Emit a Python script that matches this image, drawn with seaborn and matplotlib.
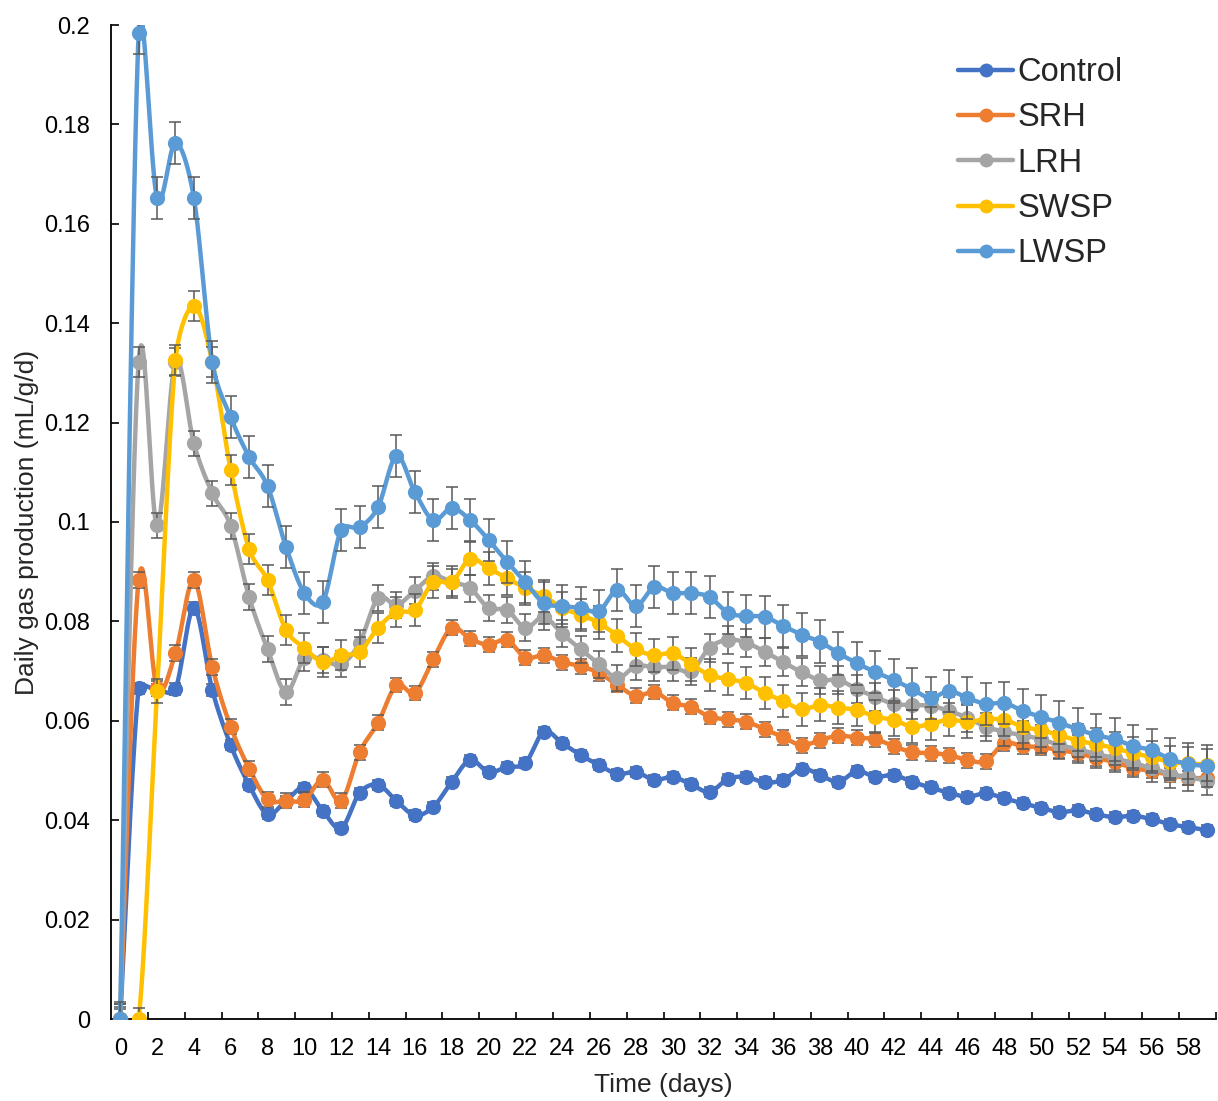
import numpy as np
import pandas as pd
import matplotlib
matplotlib.use("Agg")
import matplotlib.pyplot as plt
import seaborn as sns
from matplotlib.lines import Line2D

days = list(range(60))

control = [0.0, 0.0665, 0.0662, 0.0664, 0.0827, 0.0662, 0.0551, 0.0471, 0.0412, 0.0439,
           0.0465, 0.0419, 0.0384, 0.0455, 0.0471, 0.0439, 0.0410, 0.0427, 0.0477, 0.0521,
           0.0497, 0.0507, 0.0515, 0.0578, 0.0555, 0.0531, 0.0511, 0.0493, 0.0497, 0.0481,
           0.0487, 0.0472, 0.0457, 0.0483, 0.0487, 0.0476, 0.0481, 0.0504, 0.0491, 0.0477,
           0.0499, 0.0487, 0.0491, 0.0477, 0.0466, 0.0455, 0.0447, 0.0454, 0.0444, 0.0434,
           0.0425, 0.0416, 0.0420, 0.0412, 0.0406, 0.0409, 0.0402, 0.0392, 0.0386, 0.0380]
srh = [0.0, 0.0883, 0.0665, 0.0736, 0.0883, 0.0708, 0.0588, 0.0504, 0.0442, 0.0439,
       0.0441, 0.0481, 0.0439, 0.0537, 0.0596, 0.0672, 0.0656, 0.0724, 0.0787, 0.0765,
       0.0753, 0.0763, 0.0727, 0.0732, 0.0718, 0.0710, 0.0696, 0.0672, 0.0650, 0.0658,
       0.0636, 0.0628, 0.0608, 0.0603, 0.0598, 0.0583, 0.0567, 0.0551, 0.0561, 0.0570,
       0.0566, 0.0563, 0.0549, 0.0537, 0.0535, 0.0531, 0.0521, 0.0519, 0.0555, 0.0549,
       0.0547, 0.0541, 0.0535, 0.0525, 0.0517, 0.0505, 0.0499, 0.0491, 0.0485, 0.0485]
lrh = [0.0, 0.1322, 0.0993, 0.1322, 0.1158, 0.1058, 0.0992, 0.0849, 0.0744, 0.0658,
       0.0726, 0.0722, 0.0714, 0.0757, 0.0847, 0.0833, 0.0862, 0.0891, 0.0879, 0.0867,
       0.0827, 0.0823, 0.0787, 0.0809, 0.0775, 0.0744, 0.0714, 0.0686, 0.0710, 0.0708,
       0.0708, 0.0700, 0.0747, 0.0763, 0.0757, 0.0739, 0.0718, 0.0698, 0.0682, 0.0682,
       0.0664, 0.0648, 0.0634, 0.0632, 0.0630, 0.0620, 0.0606, 0.0588, 0.0578, 0.0571,
       0.0563, 0.0551, 0.0543, 0.0533, 0.0525, 0.0515, 0.0505, 0.0493, 0.0487, 0.0479]
swsp = [0.0, 0.0, 0.0660, 0.1326, 0.1435, 0.1322, 0.1105, 0.0946, 0.0883, 0.0783,
        0.0747, 0.0718, 0.0732, 0.0739, 0.0787, 0.0819, 0.0823, 0.0879, 0.0879, 0.0926,
        0.0907, 0.0887, 0.0867, 0.0851, 0.0827, 0.0813, 0.0797, 0.0771, 0.0744, 0.0732,
        0.0736, 0.0714, 0.0692, 0.0684, 0.0676, 0.0656, 0.0640, 0.0623, 0.0632, 0.0626,
        0.0622, 0.0608, 0.0602, 0.0588, 0.0594, 0.0602, 0.0598, 0.0603, 0.0602, 0.0588,
        0.0581, 0.0571, 0.0560, 0.0553, 0.0545, 0.0535, 0.0527, 0.0517, 0.0515, 0.0511]
lwsp = [0.0, 0.1983, 0.1652, 0.1763, 0.1652, 0.1322, 0.1211, 0.1131, 0.1072, 0.0950,
        0.0857, 0.0839, 0.0984, 0.0990, 0.1030, 0.1133, 0.1060, 0.1004, 0.1028, 0.1004,
        0.0964, 0.0920, 0.0879, 0.0837, 0.0831, 0.0827, 0.0821, 0.0863, 0.0831, 0.0869,
        0.0857, 0.0857, 0.0849, 0.0817, 0.0811, 0.0809, 0.0791, 0.0773, 0.0759, 0.0736,
        0.0716, 0.0698, 0.0682, 0.0664, 0.0646, 0.0660, 0.0646, 0.0634, 0.0636, 0.0620,
        0.0608, 0.0596, 0.0583, 0.0571, 0.0563, 0.0549, 0.0541, 0.0523, 0.0513, 0.0509]

control_err = [0.0020, 0.0012, 0.0012, 0.0012, 0.0012, 0.0012, 0.0010, 0.0010, 0.0010, 0.0010,
               0.0010, 0.0010, 0.0010, 0.0010, 0.0010, 0.0010, 0.0010, 0.0010, 0.0010, 0.0010,
               0.0010, 0.0010, 0.0010, 0.0010, 0.0010, 0.0010, 0.0010, 0.0010, 0.0010, 0.0010,
               0.0010, 0.0010, 0.0010, 0.0010, 0.0010, 0.0010, 0.0010, 0.0010, 0.0010, 0.0010,
               0.0010, 0.0010, 0.0010, 0.0010, 0.0010, 0.0010, 0.0010, 0.0010, 0.0010, 0.0010,
               0.0010, 0.0010, 0.0010, 0.0010, 0.0010, 0.0010, 0.0010, 0.0010, 0.0010, 0.0010]
srh_err = [0.0025, 0.0016, 0.0016, 0.0016, 0.0016, 0.0016, 0.0015, 0.0015, 0.0015, 0.0015,
           0.0015, 0.0015, 0.0015, 0.0015, 0.0015, 0.0015, 0.0015, 0.0015, 0.0015, 0.0015,
           0.0015, 0.0015, 0.0015, 0.0015, 0.0015, 0.0015, 0.0015, 0.0015, 0.0015, 0.0015,
           0.0015, 0.0015, 0.0015, 0.0015, 0.0015, 0.0015, 0.0015, 0.0015, 0.0015, 0.0015,
           0.0015, 0.0015, 0.0015, 0.0015, 0.0015, 0.0015, 0.0015, 0.0015, 0.0015, 0.0015,
           0.0015, 0.0015, 0.0015, 0.0015, 0.0015, 0.0015, 0.0015, 0.0015, 0.0015, 0.0015]
lrh_err = [0.0030, 0.0030, 0.0026, 0.0028, 0.0025, 0.0025, 0.0026, 0.0026, 0.0026, 0.0027,
           0.0026, 0.0026, 0.0026, 0.0026, 0.0027, 0.0027, 0.0027, 0.0027, 0.0027, 0.0027,
           0.0027, 0.0027, 0.0027, 0.0027, 0.0027, 0.0027, 0.0027, 0.0027, 0.0027, 0.0027,
           0.0027, 0.0027, 0.0028, 0.0028, 0.0028, 0.0028, 0.0028, 0.0028, 0.0028, 0.0028,
           0.0028, 0.0028, 0.0028, 0.0028, 0.0028, 0.0028, 0.0028, 0.0028, 0.0028, 0.0028,
           0.0028, 0.0028, 0.0028, 0.0028, 0.0028, 0.0028, 0.0028, 0.0028, 0.0028, 0.0028]
swsp_err = [0.0030, 0.0022, 0.0025, 0.0030, 0.0030, 0.0030, 0.0030, 0.0030, 0.0030, 0.0030,
            0.0030, 0.0030, 0.0030, 0.0030, 0.0030, 0.0030, 0.0032, 0.0032, 0.0032, 0.0033,
            0.0033, 0.0033, 0.0033, 0.0033, 0.0033, 0.0033, 0.0033, 0.0033, 0.0033, 0.0033,
            0.0033, 0.0033, 0.0033, 0.0033, 0.0033, 0.0033, 0.0033, 0.0033, 0.0033, 0.0033,
            0.0033, 0.0033, 0.0033, 0.0033, 0.0033, 0.0033, 0.0033, 0.0033, 0.0033, 0.0033,
            0.0033, 0.0033, 0.0033, 0.0033, 0.0033, 0.0033, 0.0033, 0.0033, 0.0033, 0.0033]
lwsp_err = [0.0035, 0.0042, 0.0042, 0.0042, 0.0042, 0.0042, 0.0042, 0.0042, 0.0042, 0.0042,
            0.0042, 0.0042, 0.0042, 0.0042, 0.0042, 0.0042, 0.0042, 0.0042, 0.0042, 0.0042,
            0.0042, 0.0042, 0.0042, 0.0042, 0.0042, 0.0042, 0.0042, 0.0042, 0.0042, 0.0042,
            0.0042, 0.0042, 0.0042, 0.0042, 0.0042, 0.0042, 0.0042, 0.0043, 0.0043, 0.0043,
            0.0043, 0.0043, 0.0043, 0.0043, 0.0043, 0.0043, 0.0043, 0.0043, 0.0043, 0.0043,
            0.0043, 0.0043, 0.0043, 0.0043, 0.0043, 0.0043, 0.0043, 0.0043, 0.0043, 0.0043]

series_names = ["Control", "SRH", "LRH", "SWSP", "LWSP"]
series_values = [control, srh, lrh, swsp, lwsp]
series_errors = [control_err, srh_err, lrh_err, swsp_err, lwsp_err]
colors = ["#4472C4", "#ED7D31", "#A5A5A5", "#FFC000", "#5B9BD5"]
x_tick_labels = [str(d) for d in range(0, 59, 2)]
y_tick_values = [0, 0.02, 0.04, 0.06, 0.08, 0.1, 0.12, 0.14, 0.16, 0.18, 0.2]
y_tick_labels = ["0", "0.02", "0.04", "0.06", "0.08", "0.1", "0.12", "0.14", "0.16", "0.18", "0.2"]

W, H = 1218, 1101
AX_L, AX_R, AX_T, AX_B = 111, 1216, 25, 1019
XMIN, XMAX, YMIN, YMAX = -0.5, 59.5, 0.0, 0.2
SX = (AX_R - AX_L) / (XMAX - XMIN)   # px per day
SY = (AX_B - AX_T) / (YMAX - YMIN)   # px per unit


def smooth_curve(xs, ys, n=30):
    """Excel-style smoothed line: Bezier segments with tangents (P2-P0)/6,
    limited to half of the segment length (computed in screen space)."""
    p = np.column_stack([np.asarray(xs, float) * SX, np.asarray(ys, float) * SY])
    m = len(p)
    t = np.linspace(0, 1, n, endpoint=False)[:, None]
    out = []
    for i in range(m - 1):
        p0 = p[i - 1] if i > 0 else p[i]
        p1 = p[i]
        p2 = p[i + 1]
        p3 = p[i + 2] if i + 2 < m else p[i + 1]
        d12 = np.linalg.norm(p2 - p1)
        v1 = (p2 - p0) / 6.0
        v2 = (p3 - p1) / 6.0
        l1 = np.linalg.norm(v1)
        l2 = np.linalg.norm(v2)
        if l1 > d12 / 2 and l1 > 0:
            v1 = v1 * (d12 / 2) / l1
        if l2 > d12 / 2 and l2 > 0:
            v2 = v2 * (d12 / 2) / l2
        b1 = p1 + v1
        b2 = p2 - v2
        seg = ((1 - t) ** 3) * p1 + 3 * ((1 - t) ** 2) * t * b1 + 3 * (1 - t) * t ** 2 * b2 + t ** 3 * p2
        out.append(seg)
    out.append(p[-1][None, :])
    out = np.vstack(out)
    return out[:, 0] / SX, out[:, 1] / SY


sns.set_style("ticks")
plt.rcParams["font.family"] = ["Liberation Sans", "DejaVu Sans"]

fig = plt.figure(figsize=(W / 100, H / 100), dpi=100)
ax = fig.add_axes([AX_L / W, 1 - AX_B / H, (AX_R - AX_L) / W, (AX_B - AX_T) / H])

for k, (name, vals, errs, col) in enumerate(zip(series_names, series_values, series_errors, colors)):
    sx, sy = smooth_curve(days, vals)
    df_s = pd.DataFrame({"day": sx, "value": sy})
    sns.lineplot(data=df_s, x="day", y="value", sort=False, estimator=None,
                 color=col, linewidth=3.2, ax=ax, zorder=2 + k * 3, legend=False)
    ax.errorbar(days, vals, yerr=errs, fmt="none", ecolor="#595959", elinewidth=1.1,
                capsize=4.3, capthick=1.1, zorder=3 + k * 3)
    df_p = pd.DataFrame({"day": days, "value": vals})
    sns.scatterplot(data=df_p, x="day", y="value", color=col, s=120, linewidth=0,
                    ax=ax, zorder=4 + k * 3, legend=False)

ax.set_xlim(XMIN, XMAX)
ax.set_ylim(YMIN, YMAX)
ax.set_xticks(range(0, 59, 2))
ax.set_xticklabels(x_tick_labels)
ax.set_xticks(np.arange(1.5, 60, 2), minor=True)
ax.set_yticks(y_tick_values)
ax.set_yticklabels(y_tick_labels)
ax.tick_params(axis="x", which="major", length=0, pad=13.5, labelsize=17, labelcolor="black")
ax.tick_params(axis="x", which="minor", direction="in", length=5, width=1.2, color="black")
ax.tick_params(axis="y", which="major", direction="in", length=5.5, width=1.2, pad=15,
               labelsize=17, labelcolor="black", color="black")
for side in ["top", "right"]:
    ax.spines[side].set_visible(False)
for side in ["left", "bottom"]:
    ax.spines[side].set_color("black")
    ax.spines[side].set_linewidth(1.3)

ax.set_xlabel("Time (days)", fontsize=19, va="center")
ax.set_ylabel("Daily gas production (mL/g/d)", fontsize=19, va="center")
ax.xaxis.set_label_coords(0.5, (AX_B - 1085) / (AX_B - AX_T))
ax.yaxis.set_label_coords((27 - AX_L) / (AX_R - AX_L), 0.5)

handles = [Line2D([0], [0], color=c, linewidth=3.2, marker="o", markersize=10,
                  markeredgewidth=0) for c in colors]
fig.legend(handles, series_names, loc="upper left", bbox_to_anchor=(958 / W, 1 - 57 / H),
           frameon=False, fontsize=23.5, handlelength=1.69, handletextpad=0.12,
           labelspacing=0.44, borderpad=0, borderaxespad=0)

fig.savefig("out.png", dpi=100)
